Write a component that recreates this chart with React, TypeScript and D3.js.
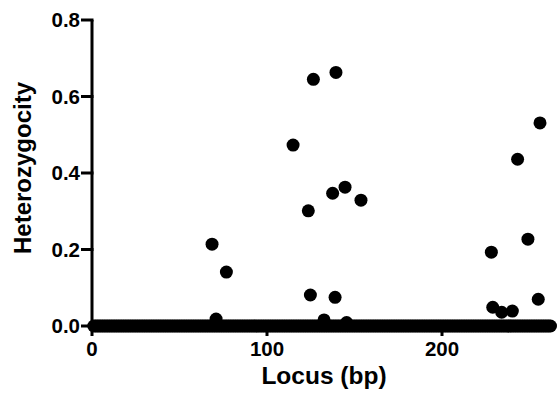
import React from "react";
import * as d3 from "d3";

// Polymorphic loci: position (bp) and heterozygosity
const polyLocus = [68.6, 70.9, 76.8, 114.9, 123.6, 124.8, 126.5, 132.6, 137.5, 138.9, 139.4, 144.6, 145.5, 153.7, 228.2, 229.0, 234.1, 240.2, 243.2, 249.1, 255.0, 256.0];
const polyHet = [0.214, 0.018, 0.141, 0.473, 0.301, 0.081, 0.645, 0.016, 0.347, 0.075, 0.663, 0.363, 0.009, 0.329, 0.193, 0.049, 0.036, 0.039, 0.436, 0.227, 0.070, 0.531];

// Monomorphic loci (heterozygosity 0)
const monoLocus = [
  1, 2, 3, 4, 5, 6, 7, 8, 9, 10, 11, 12, 13, 14, 15, 16, 17, 18, 19, 20,
  21, 22, 23, 24, 25, 26, 27, 28, 29, 30, 31, 32, 33, 34, 35, 36, 37, 38, 39, 40,
  41, 42, 43, 44, 45, 46, 47, 48, 49, 50, 51, 52, 53, 54, 55, 56, 57, 58, 59, 60,
  61, 62, 63, 64, 65, 66, 67, 68, 69, 70, 71, 72, 73, 74, 75, 76, 77, 78, 79, 80,
  81, 82, 83, 84, 85, 86, 87, 88, 89, 90, 91, 92, 93, 94, 95, 96, 97, 98, 99, 100,
  101, 102, 103, 104, 105, 106, 107, 108, 109, 110, 111, 112, 113, 114, 115, 116, 117, 118, 119, 120,
  121, 122, 123, 124, 125, 126, 127, 128, 129, 130, 131, 132, 133, 134, 135, 136, 137, 138, 139, 140,
  141, 142, 143, 144, 145, 146, 147, 148, 149, 150, 151, 152, 153, 154, 155, 156, 157, 158, 159, 160,
  161, 162, 163, 164, 165, 166, 167, 168, 169, 170, 171, 172, 173, 174, 175, 176, 177, 178, 179, 180,
  181, 182, 183, 184, 185, 186, 187, 188, 189, 190, 191, 192, 193, 194, 195, 196, 197, 198, 199, 200,
  201, 202, 203, 204, 205, 206, 207, 208, 209, 210, 211, 212, 213, 214, 215, 216, 217, 218, 219, 220,
  221, 222, 223, 224, 225, 226, 227, 228, 229, 230, 231, 232, 233, 234, 235, 236, 237, 238, 239, 240,
  241, 242, 243, 244, 245, 246, 247, 248, 249, 250, 251, 252, 253, 254, 255, 256, 257, 258, 259, 260,
  261, 262,
];

const xTicks = [0, 100, 200];
const yTicks = [0, 0.2, 0.4, 0.6, 0.8];

const FONT = "'Liberation Sans', Arial, sans-serif";

export default function App() {
  const W = 559, H = 400;
  const x = d3.scaleLinear().domain([0, 265]).range([92, 555.75]);
  const y = d3.scaleLinear().domain([0, 0.8]).range([326, 20]);
  const r = 6.5;
  const pts = [
    ...monoLocus.map((b) => ({ b, h: 0 })),
    ...polyLocus.map((b, i) => ({ b, h: polyHet[i] })),
  ];
  return (
    <svg width={W} height={H} style={{ position: "absolute", left: 0, top: 0 }}>
      <rect width={W} height={H} fill="#fff" />
      {/* y axis */}
      <line x1={x(0)} x2={x(0)} y1={y(0.8)} y2={y(0)} stroke="#000" strokeWidth={3} />
      {yTicks.map((t) => (
        <g key={t}>
          <line x1={x(0) - 11} x2={x(0) + 1.5} y1={y(t)} y2={y(t)} stroke="#000" strokeWidth={3} />
          <text x={x(0) - 12} y={y(t)} dy="0.36em" textAnchor="end" fontFamily={FONT} fontWeight="bold" fontSize={20.5} fill="#000">
            {d3.format(".1f")(t)}
          </text>
        </g>
      ))}
      {/* x axis */}
      <line x1={x(0) - 1.5} x2={x(265)} y1={y(0)} y2={y(0)} stroke="#000" strokeWidth={3} />
      {xTicks.map((t) => (
        <g key={t}>
          <line x1={x(t)} x2={x(t)} y1={y(0)} y2={y(0) + 10} stroke="#000" strokeWidth={3} />
          <text x={x(t)} y={356} textAnchor="middle" fontFamily={FONT} fontWeight="bold" fontSize={20.5} fill="#000">
            {t}
          </text>
        </g>
      ))}
      {pts.map((p, i) => (
        <circle key={i} cx={x(p.b)} cy={y(p.h)} r={r} fill="#000" />
      ))}
      <text x={324} y={384} textAnchor="middle" fontFamily={FONT} fontWeight="bold" fontSize={24.5} fill="#000">
        Locus (bp)
      </text>
      <text transform={`translate(31,168) rotate(-90)`} textAnchor="middle" fontFamily={FONT} fontWeight="bold" fontSize={24} fill="#000">
        Heterozygocity
      </text>
    </svg>
  );
}
